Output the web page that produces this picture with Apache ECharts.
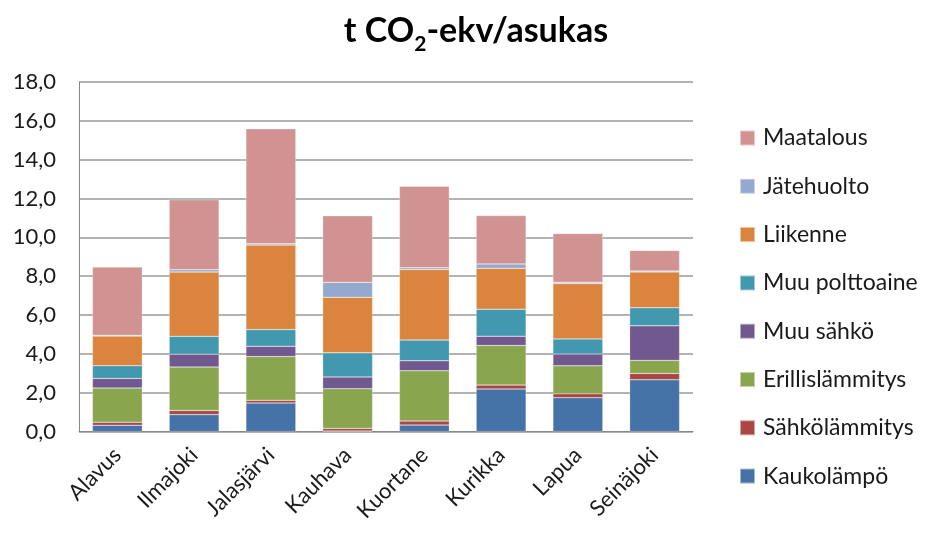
<!DOCTYPE html>
<html><head><meta charset="utf-8">
<script src="https://cdn.jsdelivr.net/npm/echarts@6/dist/echarts.min.js"></script>
<style>html,body{margin:0;padding:0;background:#fff}#c{width:928px;height:536px}</style>
</head><body><div id="c"></div>
<script>
const categories = ['Alavus','Ilmajoki','Jalasjärvi','Kauhava','Kuortane','Kurikka','Lapua','Seinäjoki'];
const kaukolampo     = [0.32, 0.87, 1.47, 0.02, 0.33, 2.19, 1.74, 2.66];
const sahkolammitys  = [0.16, 0.21, 0.14, 0.14, 0.21, 0.20, 0.20, 0.33];
const erillislammitys= [1.76, 2.24, 2.25, 2.04, 2.59, 2.04, 1.44, 0.67];
const muuSahko       = [0.49, 0.66, 0.53, 0.61, 0.51, 0.48, 0.61, 1.78];
const muuPolttoaine  = [0.66, 0.92, 0.86, 1.24, 1.07, 1.39, 0.78, 0.93];
const liikenne       = [1.53, 3.31, 4.35, 2.86, 3.63, 2.11, 2.85, 1.85];
const jatehuolto     = [0.03, 0.12, 0.07, 0.77, 0.09, 0.22, 0.07, 0.04];
const maatalous      = [3.52, 3.60, 5.92, 3.43, 4.20, 2.49, 2.51, 1.06];
const yTicks = [0,2,4,6,8,10,12,14,16,18];

const seriesDefs = [
  ['Kaukolämpö', kaukolampo, '#4572A7'],
  ['Sähkölämmitys', sahkolammitys, '#AA4643'],
  ['Erillislämmitys', erillislammitys, '#89A54E'],
  ['Muu sähkö', muuSahko, '#71588F'],
  ['Muu polttoaine', muuPolttoaine, '#4198AF'],
  ['Liikenne', liikenne, '#DB843D'],
  ['Jätehuolto', jatehuolto, '#93A9CF'],
  ['Maatalous', maatalous, '#D19392']
];
const FONT = 'Lato';
const chart = echarts.init(document.getElementById('c'), null, {renderer:'canvas'});
chart.setOption({
  animation:false,
  backgroundColor:'#fff',
  title:{
    text:'{a|t CO}{s|2}{a|-ekv/asukas}',
    left:471, top:9, textAlign:'center',
    textStyle:{rich:{
      a:{fontFamily:FONT,fontSize:34,fontWeight:'bold',color:'#000',verticalAlign:'bottom'},
      s:{fontFamily:FONT,fontSize:21,fontWeight:'bold',color:'#000',verticalAlign:'bottom',padding:[0,0,-7,0]}
    }}
  },
  legend:{
    orient:'vertical', left:734, top:121,
    itemWidth:15, itemHeight:15, itemGap:24.3,
    icon:'rect',
    data: seriesDefs.map(d=>d[0]).reverse(),
    textStyle:{fontFamily:FONT,fontSize:23,lineHeight:24,color:'#1a1a1a',padding:[0,0,0,3]}
  },
  grid:{left:79,right:235,top:82,bottom:104.5,containLabel:false},
  xAxis:{
    type:'category', data:categories,
    axisLine:{lineStyle:{color:'#888',width:1}},
    axisTick:{show:false},
    axisLabel:{rotate:45,fontFamily:FONT,fontSize:22,color:'#1a1a1a',margin:20,interval:0}
  },
  yAxis:{
    type:'value', min:yTicks[0], max:yTicks[yTicks.length-1], interval:2,
    axisLine:{show:true,lineStyle:{color:'#888'}},
    axisTick:{show:false},
    splitLine:{lineStyle:{color:'#9a9a9a',width:1.5}},
    axisLabel:{fontFamily:FONT,fontSize:22,color:'#1a1a1a',margin:23,
      formatter:v=>v.toFixed(1).replace('.',',')}
  },
  series: seriesDefs.map(d=>({
    name:d[0], type:'bar', stack:'t', data:d[1], barWidth:'65%',
    itemStyle:{color:d[2],borderColor:'rgba(255,255,255,0.5)',borderWidth:0.5}
  }))
});
</script></body></html>
